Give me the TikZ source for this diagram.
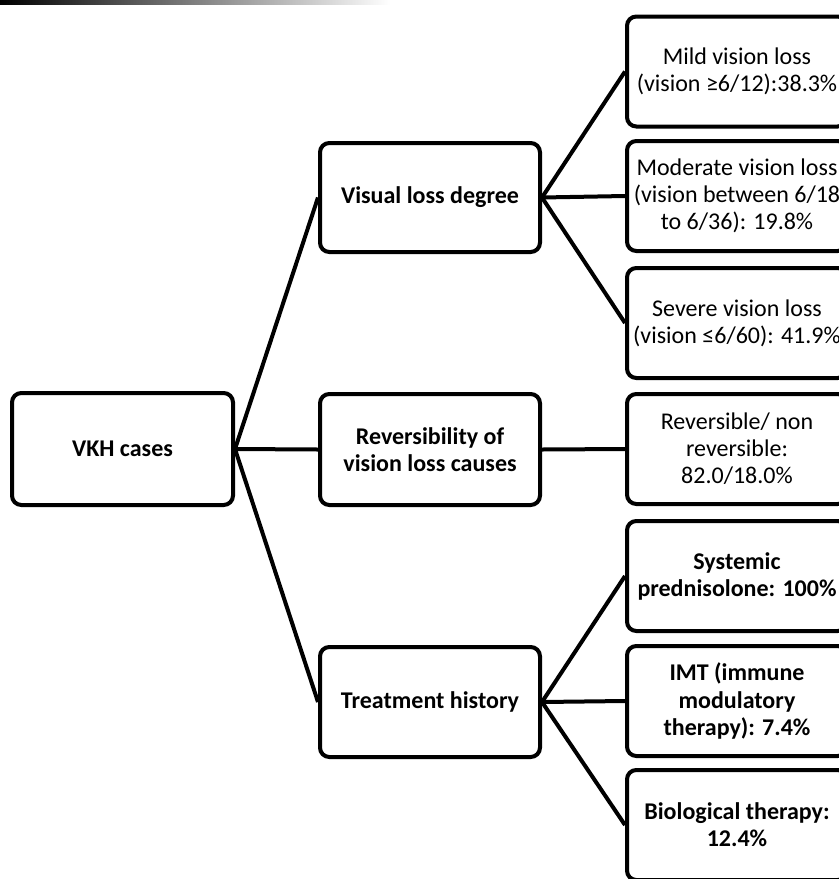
\documentclass[tikz,border=0pt]{standalone}
\usepackage{fontspec}
\setmainfont{Carlito}
\begin{document}
\begin{tikzpicture}[x=0.75pt,y=-0.75pt,
  box/.style={draw=black, line width=3pt, rounded corners=7pt, fill=white,
    minimum width=220*0.75pt, minimum height=110*0.75pt, align=center,
    inner sep=1pt, font=\fontsize{18}{20.3}\selectfont},
  bbox/.style={box, font=\fontsize{18}{20.3}\selectfont\bfseries},
  conn/.style={line width=3pt}]
\useasboundingbox (0,0) rectangle (839,879);
\shade[left color=black, right color=white] (0,0) rectangle (390,4);
% nodes
\node[bbox, minimum width=221*0.75pt, minimum height=112*0.75pt] (vkh) at (122.5,449) {VKH cases};
\node[bbox, minimum height=109*0.75pt] (vis) at (430,197.5) {Visual loss degree};
\node[bbox, minimum height=111*0.75pt] (rev) at (430,449.5) {Reversibility of\\vision loss causes};
\node[bbox] (trt) at (430,702) {Treatment history};
\node[box] (mild) at (737,71.5) {Mild vision loss\\(vision ≥6/12):38.3\%};
\node[box] (mod) at (737,196) {Moderate vision loss\\(vision between 6/18\\to 6/36): 19.8\%};
\node[box] (sev) at (737,323) {Severe vision loss\\(vision ≤6/60): 41.9\%};
\node[box] (rv) at (737,449) {Reversible/ non\\reversible:\\82.0/18.0\%};
\node[bbox] (sys) at (737,576) {Systemic\\prednisolone: 100\%};
\node[bbox] (imt) at (737,701) {IMT (immune\\modulatory\\therapy): 7.4\%};
\node[bbox] (bio) at (737,825) {Biological therapy:\\12.4\%};
% connectors
\draw[conn] (vkh.east) -- (vis.west);
\draw[conn] (vkh.east) -- (rev.west);
\draw[conn] (vkh.east) -- (trt.west);
\draw[conn] (vis.east) -- (mild.west);
\draw[conn] (vis.east) -- (mod.west);
\draw[conn] (vis.east) -- (sev.west);
\draw[conn] (rev.east) -- (rv.west);
\draw[conn] (trt.east) -- (sys.west);
\draw[conn] (trt.east) -- (imt.west);
\draw[conn] (trt.east) -- (bio.west);
\end{tikzpicture}
\end{document}
